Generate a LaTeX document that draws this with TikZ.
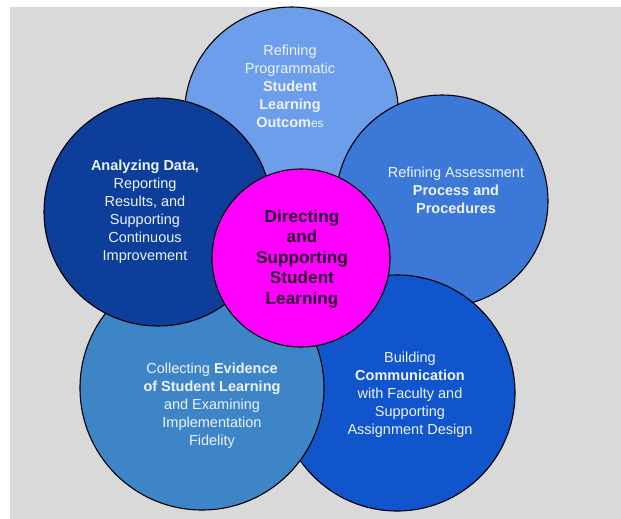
\documentclass[tikz,border=0pt]{standalone}
\usepackage{fontspec}
\setmainfont{Liberation Sans}
\usetikzlibrary{calc}
\definecolor{bggray}{HTML}{D9D9D9}
\definecolor{topblue}{HTML}{6D9EEB}
\definecolor{rightblue}{HTML}{3C78D8}
\definecolor{brblue}{HTML}{1155CC}
\definecolor{blblue}{HTML}{3D85C6}
\definecolor{tlblue}{HTML}{0C3E9A}
\definecolor{hubpink}{HTML}{FF00FF}
\definecolor{softwhite}{HTML}{EEF2FA}
\definecolor{hubtext}{HTML}{2A0030}

\begin{document}
\begin{tikzpicture}[
    x=1pt, y=-1pt,          % pixel coordinates, y runs down
    bubble/.style={
        circle,
        draw=black,
        line width=1.1pt,   % dark rim round every circle
        inner sep=0pt
    },
    lbl/.style={
        text=softwhite,
        align=center,
        font=\fontsize{14.5}{18}\selectfont
    },
    hublbl/.style={
        text=hubtext,
        align=center,
        font=\bfseries\fontsize{17.2}{20.5}\selectfont
    }
]
\useasboundingbox (0,0) rectangle (621,519);
\fill[bggray] (10,7) rectangle (621,519);

% circles, each one laid over the one before
\node[bubble, fill=topblue,   minimum size=214pt] (outcomes)      at (291.5,114) {};
\node[bubble, fill=rightblue, minimum size=212pt] (process)       at (442,201)   {};
\node[bubble, fill=brblue,    minimum size=236pt] (communication) at (397,393)   {};
\node[bubble, fill=blblue,    minimum size=244pt] (evidence)      at (202,388)   {};
\node[bubble, fill=tlblue,    minimum size=228pt] (analysis)      at (158,212)   {};
\node[bubble, fill=hubpink,   minimum size=178pt] (hub)           at (301,258)   {};

% texts
\node[lbl] (outcomes-text) at (290,86)
    {Refining\\Programmatic\\\textbf{Student}\\\textbf{Learning}\\\textbf{Outcom}{\fontsize{12}{18}\selectfont es}};
\node[lbl] (analysis-text) at (145,212)
    {\textbf{Analyzing Data,}\\Reporting\\Results, and\\Supporting\\Continuous\\Improvement};
\node[lbl] (process-text) at (456,190)
    {Refining Assessment\\\textbf{Process and}\\\textbf{Procedures}};
\node[lbl] (evidence-text) at (212,406)
    {Collecting \textbf{Evidence}\\\textbf{of Student Learning}\\and Examining\\Implementation\\Fidelity};
\node[lbl] (communication-text) at (410,395)
    {Building\\\textbf{Communication}\\with Faculty and\\Supporting\\Assignment Design};
\node[hublbl] (hub-text) at (302,259)
    {Directing\\and\\Supporting\\Student\\Learning};
\end{tikzpicture}
\end{document}
